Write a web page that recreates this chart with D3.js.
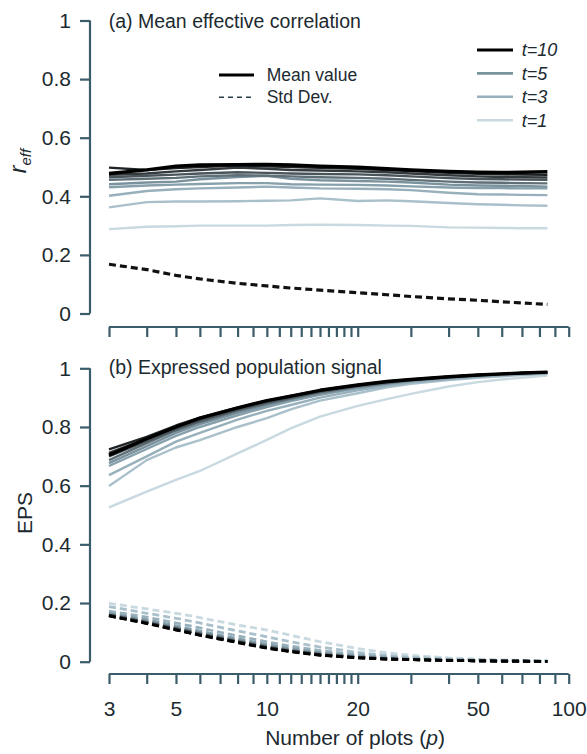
<!DOCTYPE html>
<html><head><meta charset="utf-8">
<script src="https://cdn.jsdelivr.net/npm/d3@7"></script>
<style>
body{margin:0;background:#fff;}
svg{display:block;font-family:"Liberation Sans",Arial,sans-serif;}
</style></head>
<body>
<svg id="c" width="587" height="754"></svg>
<script>
// ---- data ----
const plots = [3,4,5,6,8,10,12,15,20,25,30,40,50,60,70,85];
const tLevels = [1,2,3,4,5,6,7,8,9,10];
const lineColors = ["#c8d9e0","#a9c0cb","#97b0bc","#86a0ac","#7a929d","#5f6f77","#4a555b","#343a3e","#1e2224","#000000"];

// Mean effective correlation, one array per t (t=1..10)
const reffT1  = [0.288,0.296,0.298,0.300,0.300,0.300,0.302,0.303,0.302,0.300,0.299,0.294,0.293,0.292,0.291,0.291];
const reffT2  = [0.362,0.380,0.382,0.382,0.383,0.385,0.386,0.393,0.384,0.386,0.383,0.377,0.373,0.371,0.369,0.368];
const reffT3  = [0.402,0.418,0.424,0.427,0.430,0.433,0.430,0.427,0.426,0.424,0.421,0.412,0.407,0.406,0.405,0.404];
const reffT4  = [0.431,0.437,0.440,0.442,0.445,0.445,0.441,0.440,0.439,0.437,0.434,0.430,0.428,0.428,0.427,0.427];
const reffT5  = [0.441,0.447,0.450,0.458,0.466,0.470,0.460,0.455,0.452,0.450,0.447,0.440,0.437,0.436,0.435,0.433];
const reffT6  = [0.456,0.460,0.463,0.468,0.472,0.470,0.468,0.465,0.463,0.460,0.456,0.450,0.447,0.446,0.445,0.444];
const reffT7  = [0.465,0.470,0.474,0.478,0.482,0.480,0.478,0.476,0.475,0.472,0.468,0.462,0.459,0.458,0.457,0.456];
const reffT8  = [0.473,0.478,0.485,0.490,0.498,0.494,0.490,0.488,0.485,0.482,0.478,0.472,0.468,0.466,0.465,0.464];
const reffT9  = [0.498,0.490,0.496,0.500,0.505,0.502,0.500,0.497,0.494,0.490,0.486,0.480,0.477,0.475,0.474,0.473];
const reffT10 = [0.478,0.490,0.503,0.507,0.508,0.509,0.507,0.503,0.499,0.494,0.490,0.485,0.482,0.481,0.482,0.484];
const reffStd = [0.168,0.150,0.130,0.118,0.103,0.094,0.087,0.080,0.071,0.064,0.058,0.050,0.045,0.040,0.036,0.031];

// Expressed population signal, one array per t
const epsT1  = [0.526,0.580,0.620,0.650,0.710,0.756,0.795,0.835,0.872,0.895,0.913,0.938,0.953,0.962,0.968,0.975];
const epsT2  = [0.599,0.687,0.730,0.755,0.800,0.830,0.860,0.890,0.915,0.935,0.947,0.960,0.968,0.973,0.977,0.981];
const epsT3  = [0.636,0.700,0.750,0.780,0.825,0.855,0.875,0.900,0.925,0.940,0.952,0.963,0.971,0.976,0.979,0.983];
const epsT4  = [0.667,0.725,0.770,0.800,0.840,0.868,0.888,0.910,0.932,0.946,0.956,0.967,0.974,0.978,0.981,0.985];
const epsT5  = [0.677,0.735,0.780,0.810,0.848,0.875,0.893,0.914,0.935,0.948,0.958,0.968,0.975,0.979,0.982,0.985];
const epsT6  = [0.687,0.745,0.788,0.817,0.855,0.880,0.897,0.918,0.938,0.950,0.959,0.969,0.976,0.980,0.983,0.986];
const epsT7  = [0.700,0.752,0.793,0.822,0.859,0.884,0.900,0.921,0.940,0.952,0.960,0.970,0.976,0.980,0.983,0.986];
const epsT8  = [0.712,0.760,0.800,0.828,0.863,0.888,0.904,0.924,0.942,0.954,0.961,0.971,0.977,0.981,0.984,0.987];
const epsT9  = [0.724,0.766,0.805,0.832,0.866,0.890,0.906,0.925,0.943,0.955,0.962,0.971,0.977,0.981,0.984,0.987];
const epsT10 = [0.704,0.760,0.800,0.830,0.865,0.890,0.905,0.925,0.943,0.955,0.962,0.971,0.977,0.981,0.984,0.987];

const epsStdT1  = [0.199,0.180,0.165,0.150,0.125,0.108,0.090,0.068,0.045,0.030,0.022,0.013,0.009,0.006,0.005,0.003];
const epsStdT2  = [0.188,0.165,0.148,0.132,0.105,0.085,0.068,0.050,0.032,0.021,0.015,0.009,0.006,0.004,0.003,0.002];
const epsStdT3  = [0.172,0.152,0.132,0.115,0.088,0.068,0.053,0.038,0.024,0.016,0.011,0.007,0.005,0.003,0.002,0.002];
const epsStdT4  = [0.165,0.143,0.122,0.104,0.078,0.059,0.045,0.031,0.019,0.013,0.009,0.006,0.004,0.003,0.002,0.001];
const epsStdT5  = [0.162,0.138,0.117,0.099,0.073,0.054,0.041,0.028,0.017,0.011,0.008,0.005,0.003,0.002,0.002,0.001];
const epsStdT6  = [0.160,0.135,0.114,0.096,0.070,0.051,0.038,0.026,0.015,0.010,0.008,0.005,0.003,0.002,0.002,0.001];
const epsStdT7  = [0.159,0.133,0.112,0.094,0.068,0.049,0.036,0.024,0.014,0.010,0.007,0.004,0.003,0.002,0.0015,0.001];
const epsStdT8  = [0.158,0.132,0.110,0.092,0.067,0.048,0.035,0.023,0.014,0.009,0.007,0.004,0.003,0.002,0.0015,0.001];
const epsStdT9  = [0.157,0.131,0.109,0.091,0.066,0.047,0.035,0.023,0.013,0.009,0.007,0.004,0.003,0.002,0.0015,0.001];
const epsStdT10 = [0.156,0.130,0.108,0.090,0.065,0.046,0.034,0.022,0.013,0.009,0.007,0.004,0.003,0.002,0.0015,0.001];

const yTicks = [0,0.2,0.4,0.6,0.8,1];
const xTicks = [3,4,5,6,7,8,9,10,11,12,13,14,15,16,17,18,19,20,30,40,50,60,70,80,90,100];
const xTickLabels = [3,5,10,20,50,100];
const legendT = [10,5,3,1];

const reffSeries = [reffT1,reffT2,reffT3,reffT4,reffT5,reffT6,reffT7,reffT8,reffT9,reffT10];
const epsSeries = [epsT1,epsT2,epsT3,epsT4,epsT5,epsT6,epsT7,epsT8,epsT9,epsT10];
const epsStdSeries = [epsStdT1,epsStdT2,epsStdT3,epsStdT4,epsStdT5,epsStdT6,epsStdT7,epsStdT8,epsStdT9,epsStdT10];

// ---- drawing ----
const svg = d3.select("#c");
const axisCol = "#3b5c6a", textCol = "#1c2a30";
const x = d3.scaleLog().domain([3,100]).range([109,568.7]);
const yA = d3.scaleLinear().domain([0,1]).range([313.5,20.5]);
const yB = d3.scaleLinear().domain([0,1]).range([661.7,368.3]);

function yAxis(y){
  const g = svg.append("g").attr("transform","translate(90,0)")
    .call(d3.axisLeft(y).tickValues(yTicks).tickSize(10).tickPadding(9)
      .tickFormat(d=>d===0||d===1?d3.format("d")(d):d3.format(".1f")(d)));
  g.select(".domain").attr("d",`M0,${y(1)}V${y(0)}`);
  g.selectAll("path,line").attr("stroke",axisCol).attr("stroke-width",2.2);
  g.selectAll("text").attr("fill",textCol).attr("font-size",21).attr("font-family","Liberation Sans, Arial, sans-serif");
}
function xAxis(yPos, labels){
  const g = svg.append("g").attr("transform",`translate(0,${yPos})`)
    .call(d3.axisBottom(x).tickValues(xTicks).tickSize(10).tickPadding(17)
      .tickFormat(d=> labels && xTickLabels.includes(d) ? String(d) : ""));
  g.select(".domain").attr("d",`M${x(3)},0H${x(100)}`);
  g.selectAll("path,line").attr("stroke",axisCol).attr("stroke-width",2.2);
  g.selectAll("text").attr("fill",textCol).attr("font-size",21).attr("font-family","Liberation Sans, Arial, sans-serif");
}
yAxis(yA); yAxis(yB);
xAxis(327,false); xAxis(674,true);

const lineA = d3.line().x((d,i)=>x(plots[i])).y(d=>yA(d));
const lineB = d3.line().x((d,i)=>x(plots[i])).y(d=>yB(d));

// panel a
reffSeries.forEach((s,i)=>{
  svg.append("path").attr("d",lineA(s)).attr("fill","none")
    .attr("stroke",lineColors[i]).attr("stroke-width",i===9?3.4:2.4).attr("stroke-linejoin","round");
});
svg.append("path").attr("d",lineA(reffStd)).attr("fill","none")
  .attr("stroke","#111").attr("stroke-width",3.2).attr("stroke-dasharray","7,4");

// panel b
epsSeries.forEach((s,i)=>{
  svg.append("path").attr("d",lineB(s)).attr("fill","none")
    .attr("stroke",lineColors[i]).attr("stroke-width",i===9?3.4:2.4).attr("stroke-linejoin","round");
});
epsStdSeries.forEach((s,i)=>{
  svg.append("path").attr("d",lineB(s)).attr("fill","none")
    .attr("stroke",lineColors[i]).attr("stroke-width",2.8).attr("stroke-dasharray","7,4");
});

// titles
svg.append("text").attr("x",108.7).attr("y",27.5).attr("font-size",19.5).attr("fill",textCol).text("(a) Mean effective correlation");
svg.append("text").attr("x",108.7).attr("y",373.5).attr("font-size",19.5).attr("fill",textCol).text("(b) Expressed population signal");

// axis titles
const rt = svg.append("text").attr("transform","translate(26,161) rotate(-90)").attr("text-anchor","middle").attr("fill",textCol);
rt.append("tspan").attr("font-size",23).attr("font-style","italic").text("r");
rt.append("tspan").attr("font-size",15).attr("font-style","italic").attr("dy",5).text("eff");
svg.append("text").attr("transform","translate(32,513) rotate(-90)").attr("text-anchor","middle")
  .attr("font-size",21).attr("fill",textCol).text("EPS");
const xt = svg.append("text").attr("x",355).attr("y",745).attr("text-anchor","middle").attr("font-size",21).attr("fill",textCol);
xt.append("tspan").text("Number of plots (");
xt.append("tspan").attr("font-style","italic").text("p");
xt.append("tspan").text(")");

// legend: mean / std
svg.append("line").attr("x1",219).attr("x2",254).attr("y1",75).attr("y2",75).attr("stroke","#000").attr("stroke-width",3);
svg.append("line").attr("x1",219).attr("x2",254).attr("y1",97.3).attr("y2",97.3).attr("stroke","#2a3c44").attr("stroke-width",1.6).attr("stroke-dasharray","5,4");
svg.append("text").attr("x",266.7).attr("y",75).attr("dy","0.35em").attr("font-size",17.5).attr("fill",textCol).text("Mean value");
svg.append("text").attr("x",266.7).attr("y",97.3).attr("dy","0.35em").attr("font-size",17.5).attr("fill",textCol).text("Std Dev.");

// legend: t
const lg = svg.append("g");
legendT.forEach((t,i)=>{
  const yy = 50 + i*23.4;
  lg.append("line").attr("x1",477).attr("x2",513).attr("y1",yy).attr("y2",yy)
    .attr("stroke",lineColors[t-1]).attr("stroke-width",t===10?3.2:2.6);
  lg.append("text").attr("x",521.7).attr("y",yy).attr("dy","0.35em").attr("font-size",18)
    .attr("font-style","italic").attr("fill",textCol).text("t="+t);
});
</script>
</body></html>
